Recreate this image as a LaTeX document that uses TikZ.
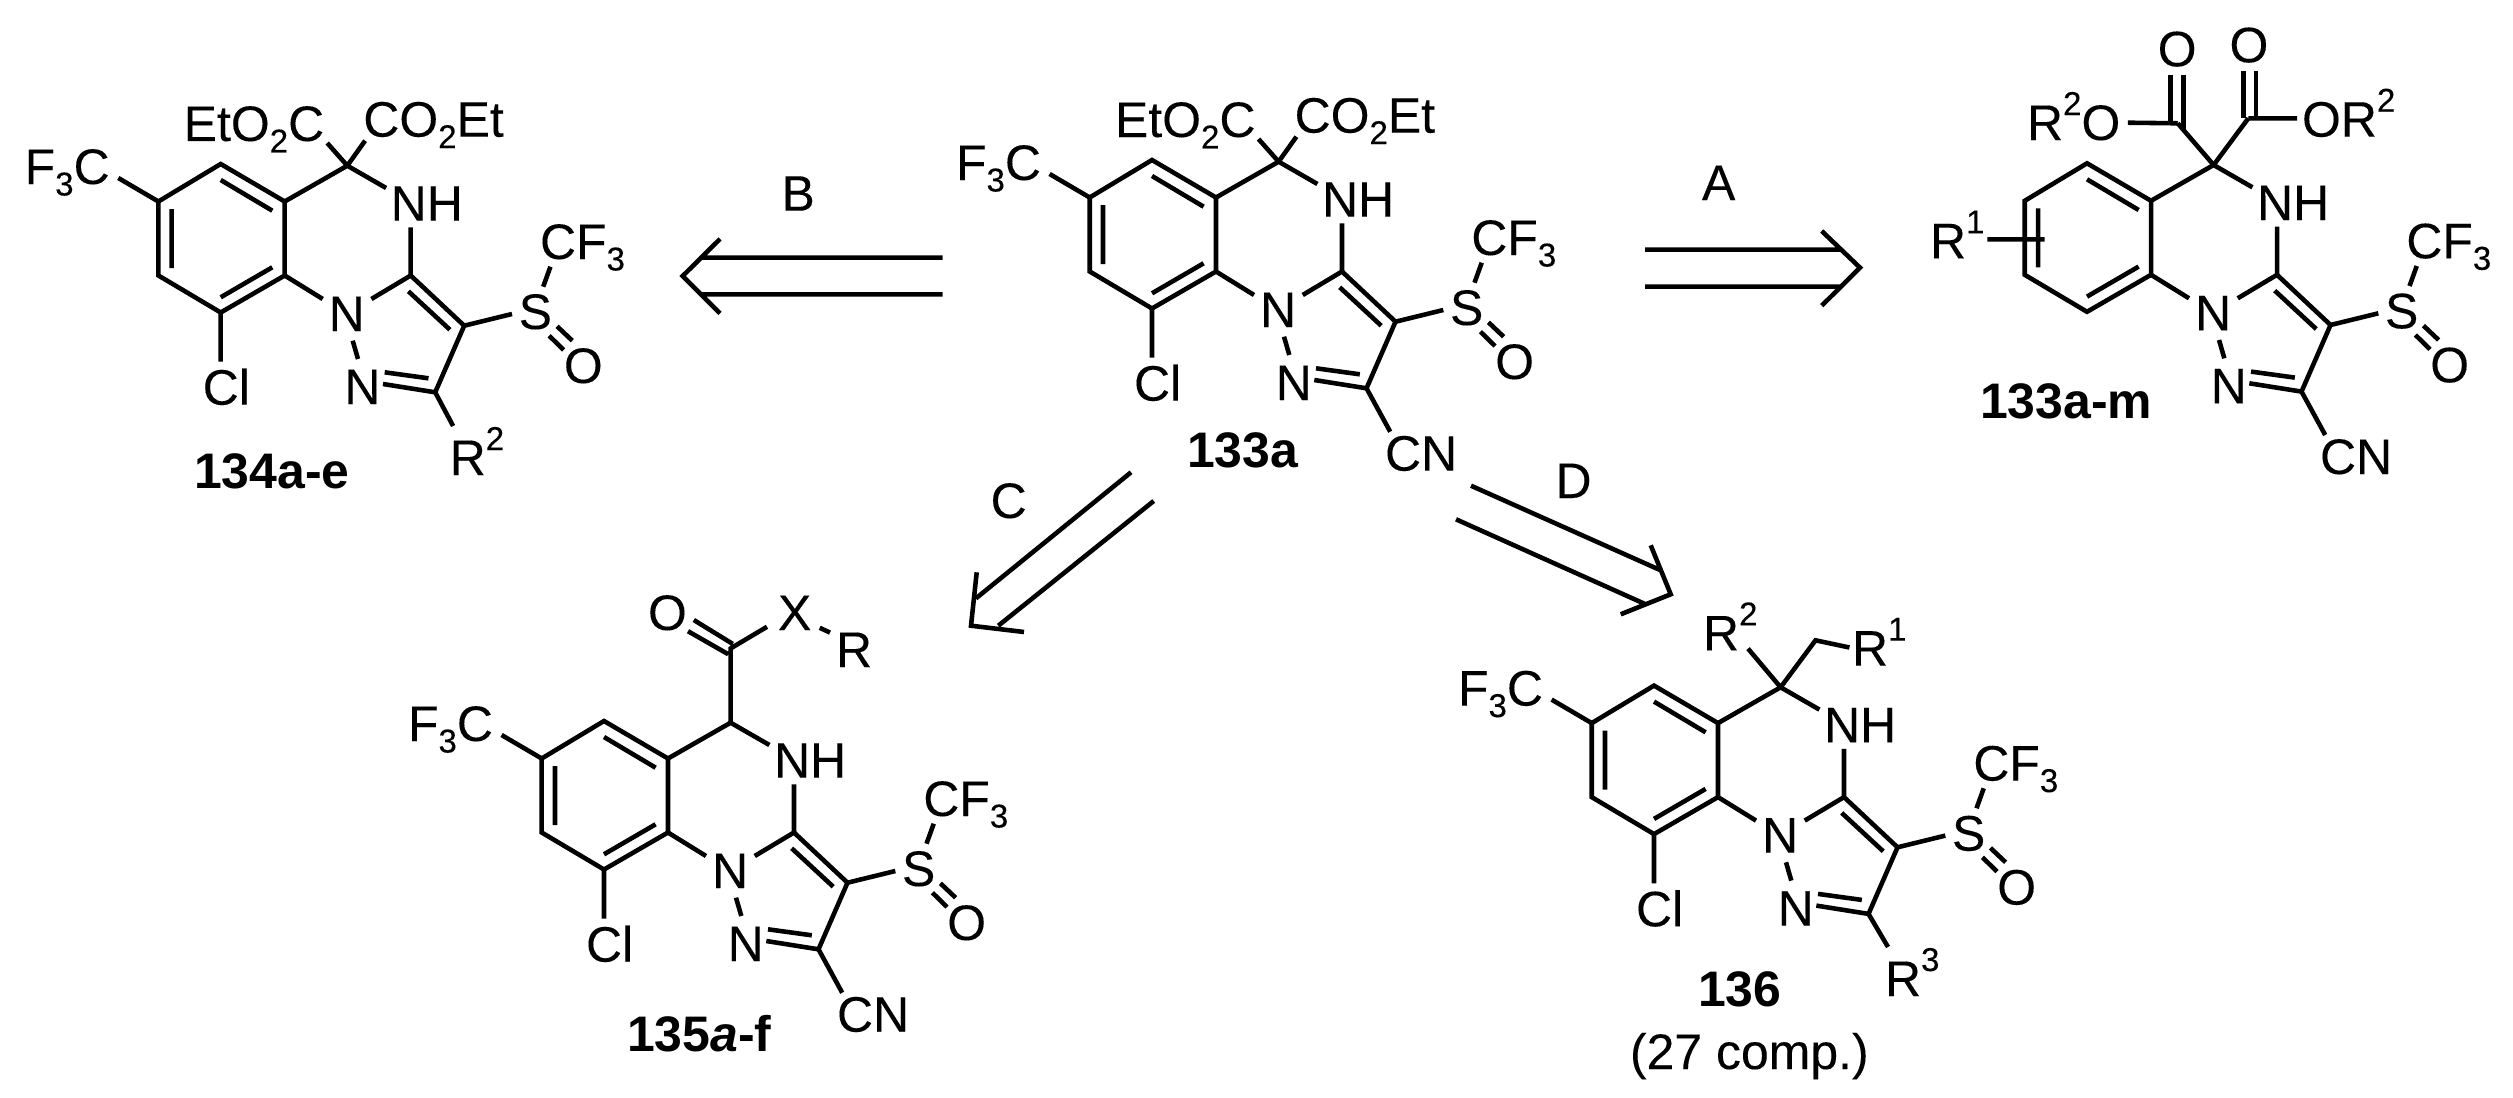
\documentclass[tikz,border=0pt]{standalone}
\usepackage{fontspec}
\setmainfont{Liberation Sans}
\newfontfamily\chemfam{Liberation Sans}[FakeBold=0.15]
\newcommand\chemfont{\chemfam\fontsize{14.2}{16}\selectfont}
\newcommand\lowr[1]{\raisebox{-.23em}{\fontsize{9.4}{10}\selectfont #1}}
\newcommand\upr[1]{\raisebox{.5em}{\fontsize{9.4}{10}\selectfont #1}}
\tikzset{
  bond/.style={line width=1.3pt,line cap=butt,line join=miter,black},
  atom/.style={inner sep=0pt,outer sep=0pt,anchor=base west,font=\chemfont},
  cname/.style={inner sep=0pt,outer sep=0pt,anchor=base west,font=\fontsize{14.2}{16}\selectfont\bfseries},
}
% pyrazoloquinazoline core, sulfinyl group and the NH, written in the frame of 133a
\newcommand\molcore{
  \coordinate (v1) at (1152,160);
  \coordinate (v2) at (1216,197.5);
  \coordinate (v3) at (1216,271.5);
  \coordinate (v4) at (1152,308.5);
  \coordinate (v5) at (1089.7,271.5);
  \coordinate (v6) at (1089.7,197.5);
  \coordinate (c4) at (1278.6,161.7);
  \coordinate (c9) at (1342,271.5);
  \coordinate (c3) at (1395.5,321.7);
  \coordinate (c2) at (1366.5,388.3);
  \coordinate (i1) at (1152,176);   \coordinate (i2) at (1203.6,206.7);
  \coordinate (i3) at (1103,205);   \coordinate (i4) at (1103,264);
  \coordinate (i5) at (1203.6,263.3); \coordinate (i6) at (1152,293.3);
  \coordinate (i7) at (1339.7,287.3); \coordinate (i8) at (1381.2,325.7);
  \coordinate (i9) at (1316,368.3);  \coordinate (i10) at (1359.8,374.3);
  \coordinate (e1) at (1314.3,380);
  \coordinate (so1) at (1488.4,322.3); \coordinate (so2) at (1503.6,336.7);
  \coordinate (so3) at (1480.4,331.7); \coordinate (so4) at (1495,346);
  \coordinate (e2) at (1443.3,310);
  \coordinate (e3) at (1474.5,282.7); \coordinate (e4) at (1481.7,262.7);
  \coordinate (e5) at (1284,336.7);  \coordinate (e6) at (1289.3,355);
  \coordinate (e7) at (1302.7,295);
  \coordinate (e8) at (1254,295);
  \coordinate (e9) at (1317.4,184);
  \coordinate (e10) at (1342,223.3);
  \node[atom] (nh) at (1322,216.7) {NH};
  \node[atom] (n1) at (1260,327) {N};
  \node[atom] (n2) at (1275.7,400) {N};
  \node[atom] (su) at (1450,325) {S};
  \node[atom] (ox) at (1495.2,379) {O};
  \node[atom] (cft) at (1471.3,255) {CF\lowr{3}};
  \draw[bond] (v1) -- (v2) -- (v3) -- (v4) -- (v5) -- (v6) -- cycle;
  \draw[bond] (i1) -- (i2) (i3) -- (i4) (i5) -- (i6);
  \draw[bond] (v2) -- (c4) (c4) -- (e9) (c9) -- (e10);
  \draw[bond] (v3) -- (e8) (e7) -- (c9) (e5) -- (e6);
  \draw[bond] (c9) -- (c3) -- (c2) -- (e1) (i7) -- (i8) (i9) -- (i10);
  \draw[bond] (c3) -- (e2) (e3) -- (e4) (so1) -- (so2) (so3) -- (so4);
}
% chlorine and trifluoromethyl of the ring
\newcommand\molhal{
  \coordinate (e11) at (1152,357.7);
  \coordinate (e12) at (1049.6,174);
  \node[atom] (cl) at (1134,400.7) {Cl};
  \node[atom] (fc) at (956,180) {F\lowr{3}C};
  \draw[bond] (v4) -- (e11) (v6) -- (e12);
}
\newcommand\molcn{
  \coordinate (e13) at (1390.2,431.7);
  \node[atom] (cn) at (1385,470.7) {CN};
  \draw[bond] (c2) -- (e13);
}
\newcommand\molester{
  \coordinate (e14) at (1258.5,139);
  \coordinate (e15) at (1296.4,136.7);
  \node[atom] (ea) at (1115,137) {EtO\lowr{2}C};
  \node[atom] (eb) at (1294.6,132.7) {CO\lowr{2}Et};
  \draw[bond] (c4) -- (e14) (c4) -- (e15);
}
\begin{document}
\begin{tikzpicture}[x=0.01cm,y=-0.01cm]
\useasboundingbox (0,0) rectangle (2513,1097);
% 133a
\begin{scope}[name prefix=a-]
  \molcore \molhal \molcn \molester
  \node[cname] (lab) at (1187,467) {133a};
\end{scope}
% 134a-e
\begin{scope}[name prefix=b-]
  \begin{scope}[shift={(-931.3,4)}]
    \molcore \molhal \molester
    \coordinate (e13) at (1384.4,422);
    \node[atom] (rt) at (1381,471) {R\upr{2}};
    \draw[bond] (c2) -- (e13);
  \end{scope}
  \node[cname] (lab) at (194,488) {134a-e};
\end{scope}
% 133a-m
\begin{scope}[name prefix=c-]
  \begin{scope}[shift={(935,3.3)}]
    \molcore \molcn
  \end{scope}
  \coordinate (co1) at (2177.7,123.3);
  \coordinate (co2) at (2248.3,118.3);
  \coordinate (d1) at (2170.5,75);   \coordinate (d2) at (2170.5,122);
  \coordinate (d3) at (2183.2,75);   \coordinate (d4) at (2183.2,130);
  \coordinate (d5) at (2243.2,70.7); \coordinate (d6) at (2243.2,118.3);
  \coordinate (d7) at (2256,70.7);   \coordinate (d8) at (2256,118.3);
  \coordinate (d9) at (2127.8,122.7);
  \coordinate (d10) at (2297,118.3);
  \coordinate (d11) at (1987.4,239.3);
  \coordinate (d12) at (2044.5,239.3);
  \node[atom] (oa) at (2157.7,66.3) {O};
  \node[atom] (ob) at (2229.5,62.3) {O};
  \node[atom] (ra) at (2027,140) {R\upr{2}O};
  \node[atom] (rb) at (2302,136.7) {OR\upr{2}};
  \node[atom] (ro) at (1930,258.3) {R\upr{1}};
  \draw[bond] (c4) -- (co1) (c4) -- (co2);
  \draw[bond] (d1) -- (d2) (d3) -- (d4) (d5) -- (d6) (d7) -- (d8);
  \draw[bond] (d9) -- (co1) (co2) -- (d10) (d11) -- (d12);
  \node[cname] (lab) at (1980,418) {133a-m};
\end{scope}
% 135a-f
\begin{scope}[name prefix=d-]
  \begin{scope}[shift={(-548,561)}]
    \molcore \molhal \molcn
  \end{scope}
  \coordinate (cc) at (730.6,648.4);
  \coordinate (f1) at (732.7,643.9); \coordinate (f2) at (693.8,620);
  \coordinate (f3) at (728.2,654.2); \coordinate (f4) at (688,631.2);
  \coordinate (f5) at (767,626.8);
  \coordinate (f6) at (819.7,627.8); \coordinate (f7) at (830,632.6);
  \node[atom] (ok) at (648,630) {O};
  \node[atom] (xa) at (778,630) {X};
  \node[atom] (rr) at (836,667) {R};
  \draw[bond] (c4) -- (cc) -- (f5) (f1) -- (f2) (f3) -- (f4) (f6) -- (f7);
  \node[cname] (lab) at (627,1051) {135\textit{a}-f};
\end{scope}
% 136
\begin{scope}[name prefix=e-]
  \begin{scope}[shift={(502,525.6)}]
    \molcore \molhal
  \end{scope}
  \coordinate (e13) at (1888,947);
  \coordinate (g1) at (1748,648.6);
  \coordinate (g2) at (1815.5,640.3);
  \coordinate (g3) at (1849.4,647.5);
  \node[atom] (rt) at (1885,996) {R\upr{3}};
  \node[atom] (rs) at (1703,650.4) {R\upr{2}};
  \node[atom] (ru) at (1852,665.6) {R\upr{1}};
  \draw[bond] (c2) -- (e13) (c4) -- (g1) (c4) -- (g2) -- (g3);
  \node[cname] (lab) at (1698,1006.7) {136};
  \node[atom] (note) at (1630,1069) {(27 comp.)};
\end{scope}
% arrows
\coordinate (a1) at (1645,249.7); \coordinate (a2) at (1840,249.7);
\coordinate (a3) at (1645,286.7); \coordinate (a4) at (1840,286.7);
\coordinate (a5) at (1821.7,231); \coordinate (a6) at (1860,267.7); \coordinate (a7) at (1821.7,305.7);
\draw[bond] (a1) -- (a2) (a3) -- (a4) (a5) -- (a6) -- (a7);
\node[atom] (la) at (1702,200) {A};
\coordinate (b1) at (942.7,257.7); \coordinate (b2) at (701.7,257.7);
\coordinate (b3) at (942.7,294.3); \coordinate (b4) at (701.7,294.3);
\coordinate (b5) at (720,239); \coordinate (b6) at (682.7,276); \coordinate (b7) at (720,313.3);
\draw[bond] (b1) -- (b2) (b3) -- (b4) (b5) -- (b6) -- (b7);
\node[atom] (lb) at (781.5,210.7) {B};
\coordinate (g1) at (1131,472.3); \coordinate (g2) at (976,598.3);
\coordinate (g3) at (1153.7,501); \coordinate (g4) at (998.3,625.7);
\coordinate (g5) at (976.7,572.3); \coordinate (g6) at (971,625.7); \coordinate (g7) at (1024,632);
\draw[bond] (g1) -- (g2) (g3) -- (g4) (g5) -- (g6) -- (g7);
\node[atom] (lc) at (990.6,518) {C};
\coordinate (h1) at (1471,485.7); \coordinate (h2) at (1660,570);
\coordinate (h3) at (1456,519.3); \coordinate (h4) at (1645,604);
\coordinate (h5) at (1650.7,545.3); \coordinate (h6) at (1670.7,594.3); \coordinate (h7) at (1620.7,614.3);
\draw[bond] (h1) -- (h2) (h3) -- (h4) (h5) -- (h6) -- (h7);
\node[atom] (ld) at (1555.5,498) {D};
\end{tikzpicture}
\end{document}
